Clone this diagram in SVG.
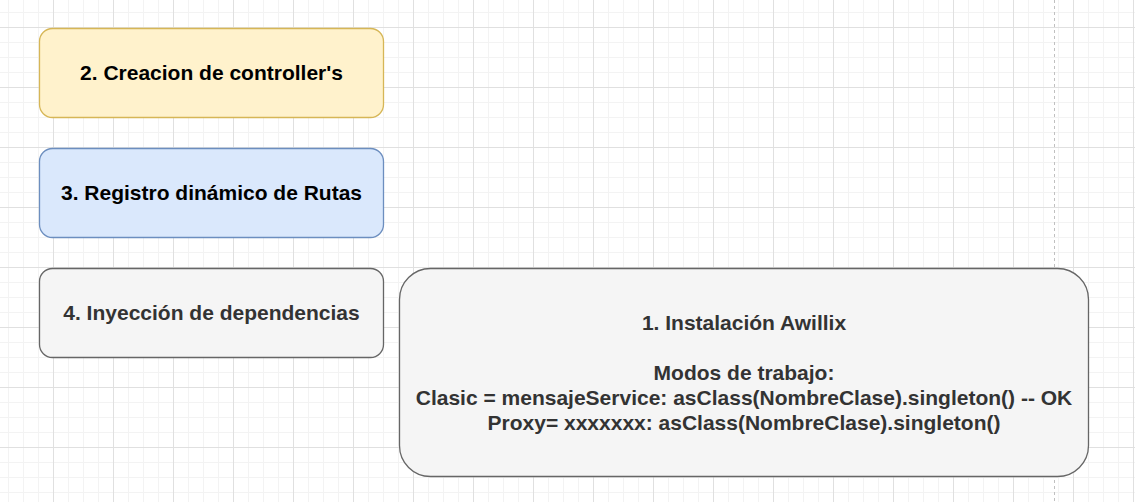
<svg xmlns="http://www.w3.org/2000/svg" width="1135" height="502" viewBox="0 0 1135 502">
<style>
  .lbl { font-family: "Liberation Sans", Arial, Helvetica, sans-serif; font-size: 21px; font-weight: bold; text-anchor: middle; }
  .dark { fill: #000000; }
  .grey { fill: #333333; }
  .yellow { fill: #fff2cc; stroke: #d6b656; stroke-width: 1.3; }
  .blue { fill: #dae8fc; stroke: #6c8ebf; stroke-width: 1.3; }
  .gray { fill: #f5f5f5; stroke: #666666; stroke-width: 1.3; }
</style>
<defs>
  <pattern id="grid" patternUnits="userSpaceOnUse" x="-7" y="-33" width="60" height="60">
    <rect x="0" y="0" width="60" height="60" fill="#ffffff"/>
    <rect x="15" y="0" width="1" height="60" fill="#f3f3f3"/>
    <rect x="30" y="0" width="1" height="60" fill="#f3f3f3"/>
    <rect x="45" y="0" width="1" height="60" fill="#f3f3f3"/>
    <rect x="0" y="15" width="60" height="1" fill="#f3f3f3"/>
    <rect x="0" y="30" width="60" height="1" fill="#f3f3f3"/>
    <rect x="0" y="45" width="60" height="1" fill="#f3f3f3"/>
    <rect x="0" y="0" width="1" height="60" fill="#e0e0e0"/>
    <rect x="0" y="0" width="60" height="1" fill="#e0e0e0"/>
  </pattern>
</defs>
<rect x="0" y="0" width="1135" height="502" fill="url(#grid)"/>
<line x1="1054.5" y1="0" x2="1054.5" y2="502" stroke="#c0c0c0" stroke-width="1" stroke-dasharray="3 3"/>
<g id="connectors"></g>
<g id="node-2">
  <rect class="yellow" x="39.5" y="28.5" width="344" height="89" rx="13" ry="13"/>
  <text class="lbl dark" x="211.5" y="80">2. Creacion de controller's</text>
</g>
<g id="node-3">
  <rect class="blue" x="39.5" y="148.5" width="344" height="89" rx="13" ry="13"/>
  <text class="lbl dark" x="211.5" y="200">3. Registro dinámico de Rutas</text>
</g>
<g id="node-4">
  <rect class="gray" x="39.5" y="268.5" width="344" height="89" rx="13" ry="13"/>
  <text class="lbl grey" x="211.5" y="320">4. Inyección de dependencias</text>
</g>
<g id="node-1">
  <rect class="gray" x="399.5" y="268.5" width="689" height="208" rx="31" ry="31"/>
  <text class="lbl grey" x="744" y="330">1. Instalación Awillix</text>
  <text class="lbl grey" x="744" y="380">Modos de trabajo:</text>
  <text class="lbl grey" x="744" y="405">Clasic = mensajeService: asClass(NombreClase).singleton() -- OK</text>
  <text class="lbl grey" x="744" y="430">Proxy= xxxxxxx: asClass(NombreClase).singleton()</text>
</g>
</svg>
